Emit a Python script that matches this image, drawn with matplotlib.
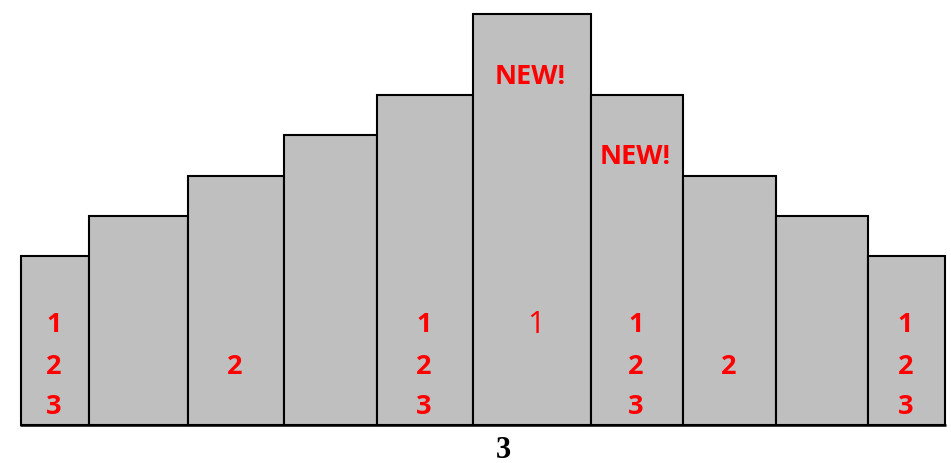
import matplotlib.pyplot as plt

# bar geometry (left edges, widths, heights), in pixels
lefts = [21, 89, 188, 284, 377, 473, 591, 683, 776, 868]
widths = [68, 99, 96, 93, 96, 118, 92, 93, 92, 77]
heights = [169, 209, 249, 290, 330, 411, 330, 249, 209, 169]

# which of the rows 1/2/3 are written in each bar
rows = [[1, 2, 3], [], [2], [], [1, 2, 3], [1], [1, 2, 3], [2], [], [1, 2, 3]]
row_y = {1: 100, 2: 58, 3: 18}
new_bars = [5, 6]
new_y = [348, 268]
xlabel = "3"

fig = plt.figure(figsize=(9.51, 4.63), dpi=100)
ax = fig.add_axes([0, 0, 1, 1])
ax.set_xlim(0, 951)
ax.set_ylim(-38, 425)
ax.axis("off")

ax.bar(lefts, heights, width=widths, align="edge", color="#bfbfbf",
       edgecolor="black", linewidth=1.5)
ax.plot([lefts[0] - 1, lefts[-1] + widths[-1] + 1], [0, 0], color="black",
        linewidth=1.8, solid_capstyle="butt")

red = "#ff0000"
for i, rr in enumerate(rows):
    cx = lefts[i] + widths[i] / 2
    for r in rr:
        if i == 5:
            # the lone "1" in the tall bar is a thinner font
            ax.text(cx + 4, row_y[r], str(r), color=red, ha="center", va="center",
                    fontsize=22, family="Open Sans", fontweight="normal")
        else:
            ax.text(cx - 1, row_y[r], str(r), color=red, ha="center", va="center",
                    fontsize=19.5, family="Open Sans", fontweight="bold")

for i, y in zip(new_bars, new_y):
    cx = lefts[i] + widths[i] / 2
    ax.text(cx - 2, y, "NEW!", color=red, ha="center", va="center",
            fontsize=19.5, family="Open Sans", fontweight="bold")

ax.text(503, -25, xlabel, ha="center", va="center", fontsize=22,
        family="Liberation Serif", fontweight="bold")

fig.savefig("out.png", dpi=100)
